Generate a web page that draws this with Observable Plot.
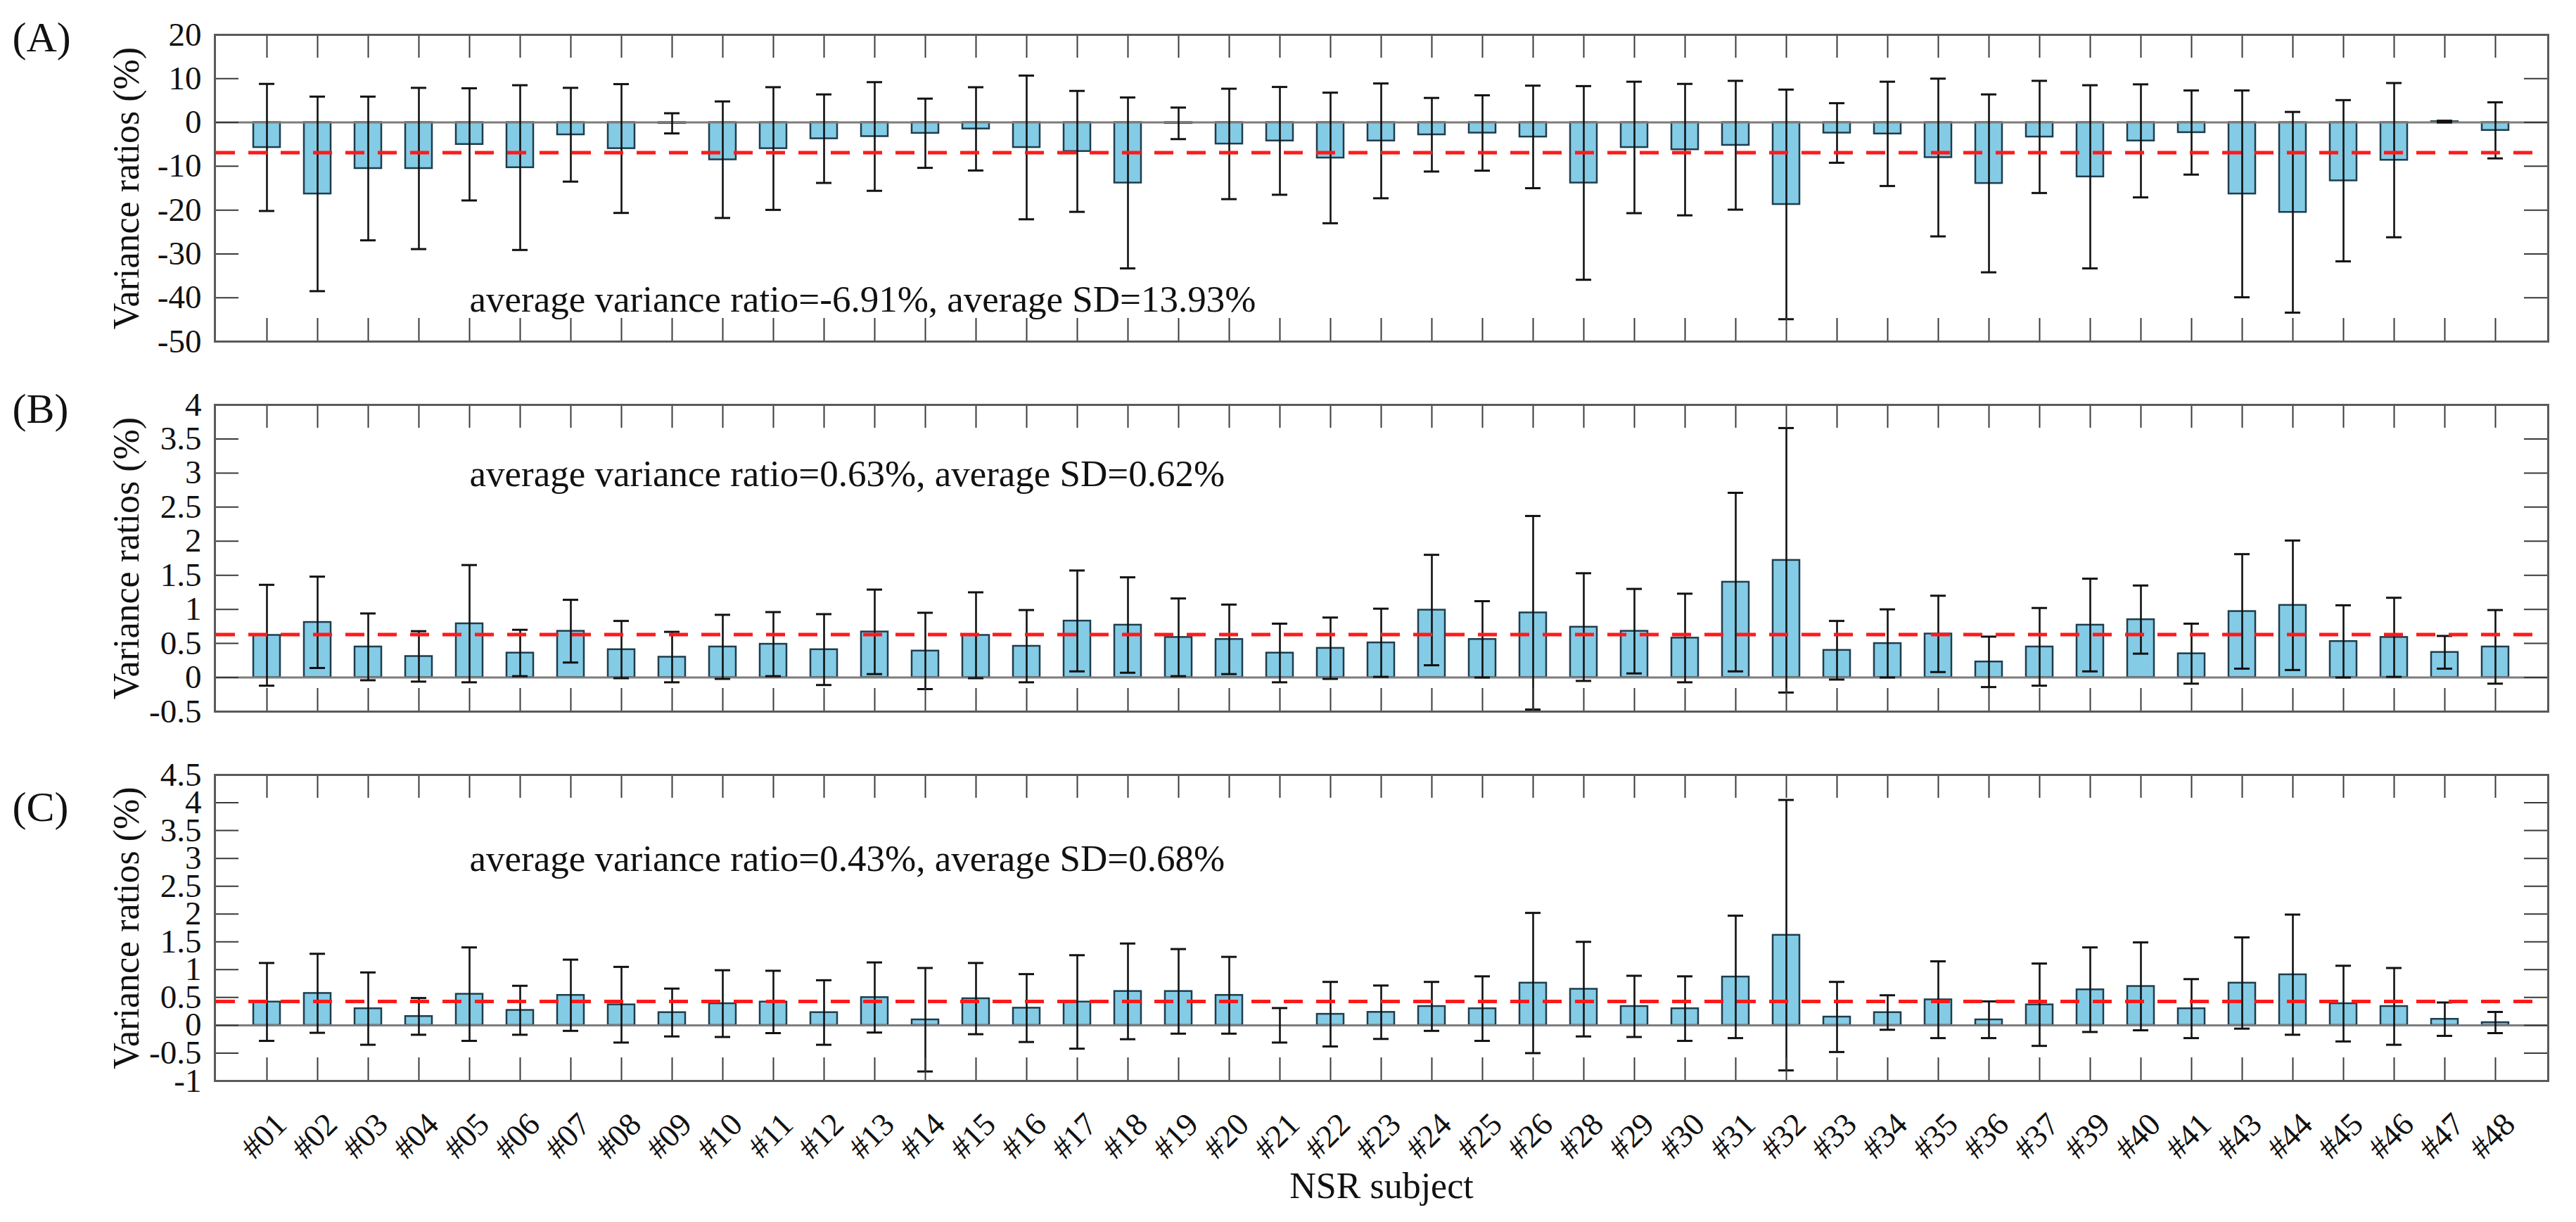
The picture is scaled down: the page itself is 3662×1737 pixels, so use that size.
<!DOCTYPE html>
<html><head><meta charset="utf-8">
<script src="https://cdn.jsdelivr.net/npm/d3@7"></script>
<script src="https://cdn.jsdelivr.net/npm/@observablehq/plot@0.6"></script>
<style>
html,body{margin:0;padding:0;background:#fff;}
#chart{position:relative;width:3662px;height:1737px;background:#fff;overflow:hidden;}
#chart > div{position:absolute;left:0;}
</style></head><body><div id="chart"></div>
<script>
const subjects = ["#01","#02","#03","#04","#05","#06","#07","#08","#09","#10","#11","#12","#13","#14","#15","#16","#17","#18","#19","#20","#21","#22","#23","#24","#25","#26","#28","#29","#30","#31","#32","#33","#34","#35","#36","#37","#39","#40","#41","#43","#44","#45","#46","#47","#48"];

const meanA = [-5.7,-16.3,-10.5,-10.5,-5.0,-10.3,-2.8,-5.95,-0.2,-8.5,-5.95,-3.7,-3.2,-2.46,-1.46,-5.7,-6.6,-13.8,-0.2,-4.9,-4.2,-8.1,-4.2,-2.8,-2.4,-3.3,-13.8,-5.7,-6.2,-5.2,-18.7,-2.4,-2.6,-8.0,-13.9,-3.3,-12.4,-4.2,-2.3,-16.3,-20.5,-13.3,-8.6,0.2,-1.8];
const sdA = [14.5,22.2,16.4,18.4,12.8,18.8,10.7,14.7,2.3,13.3,14.0,10.1,12.4,7.9,9.5,16.4,13.8,19.5,3.6,12.6,12.3,14.9,13.1,8.4,8.6,11.7,22.1,15.0,15.0,14.7,26.2,6.8,11.9,18.0,20.3,12.8,20.9,12.9,9.6,23.6,22.9,18.4,17.6,0.2,6.4];

const meanB = [0.62,0.81,0.45,0.31,0.79,0.36,0.68,0.41,0.30,0.45,0.49,0.41,0.67,0.39,0.62,0.46,0.83,0.77,0.59,0.56,0.36,0.43,0.51,0.99,0.56,0.95,0.74,0.68,0.58,1.40,1.72,0.40,0.50,0.64,0.23,0.45,0.77,0.85,0.35,0.97,1.06,0.53,0.59,0.37,0.45];
const sdB = [0.74,0.67,0.49,0.37,0.86,0.34,0.46,0.42,0.37,0.47,0.47,0.52,0.62,0.56,0.63,0.53,0.74,0.70,0.57,0.51,0.43,0.45,0.50,0.81,0.56,1.42,0.79,0.62,0.65,1.31,1.94,0.43,0.50,0.56,0.37,0.57,0.68,0.50,0.44,0.84,0.95,0.53,0.58,0.24,0.54];

const meanC = [0.42,0.575,0.30,0.16,0.56,0.27,0.54,0.37,0.23,0.39,0.42,0.23,0.50,0.10,0.48,0.31,0.42,0.61,0.61,0.54,0.00,0.20,0.235,0.34,0.30,0.76,0.65,0.34,0.30,0.87,1.62,0.15,0.23,0.46,0.10,0.37,0.64,0.70,0.30,0.76,0.91,0.39,0.34,0.11,0.05];
const sdC = [0.70,0.71,0.65,0.33,0.84,0.44,0.64,0.68,0.43,0.60,0.56,0.58,0.63,0.93,0.64,0.61,0.84,0.86,0.76,0.69,0.31,0.58,0.48,0.44,0.58,1.26,0.85,0.55,0.58,1.10,2.43,0.63,0.31,0.69,0.33,0.74,0.76,0.79,0.53,0.82,1.08,0.68,0.69,0.30,0.19];

const avgValues = [-6.91, 0.63, 0.43];
const notes = ["average variance ratio=-6.91%, average SD=13.93%", "average variance ratio=0.63%, average SD=0.62%", "average variance ratio=0.43%, average SD=0.68%"];
const letters = ["(A)", "(B)", "(C)"];
const yTicksA = [-50,-40,-30,-20,-10,0,10,20];
const yTicksB = [-0.5,0,0.5,1,1.5,2,2.5,3,3.5,4];
const yTicksC = [-1,-0.5,0,0.5,1,1.5,2,2.5,3,3.5,4,4.5];
const yLabel = "Variance ratios (%)";
const xLabel = "NSR subject";

const W = 3662, ML = 305, MR = 40;
const FONT = "'Liberation Serif','Times New Roman',serif";

function makePanel(cfg) {
  const rows = subjects.map((s, i) => ({s, m: cfg.mean[i], lo: cfg.mean[i] - cfg.sd[i], hi: cfg.mean[i] + cfg.sd[i]}));
  const frameW = W - ML - MR;
  const frameH = cfg.height - cfg.mTop - cfg.mBottom;
  const tickStyle = {stroke: "#3a3a3a", strokeWidth: 2};
  const marks = [
    Plot.barY(rows, {x: "s", y: "m", fill: "#84cbe6", stroke: "#1f3d4c", strokeWidth: 2.5}),
    Plot.ruleY([0], {stroke: "#7d7d7d", strokeWidth: 3}),
    Plot.ruleX(rows, {x: "s", y1: "lo", y2: "hi", stroke: "#111", strokeWidth: 2.6}),
    Plot.tickY(rows, {x: "s", y: "hi", stroke: "#111", strokeWidth: 3, inset: 8}),
    Plot.tickY(rows, {x: "s", y: "lo", stroke: "#111", strokeWidth: 3, inset: 8}),
    Plot.ruleY([cfg.avg], {stroke: "#ff1a1a", strokeWidth: 5, strokeDasharray: "27,19", insetRight: 20, insetLeft: 2}),
    Plot.tickY(cfg.yTicks, {y: d => d, insetRight: frameW - 34, ...tickStyle}),
    Plot.tickY(cfg.yTicks, {y: d => d, insetLeft: frameW - 34, ...tickStyle}),
    Plot.tickX(subjects, {x: d => d, insetBottom: frameH - 33, ...tickStyle}),
    Plot.tickX(subjects, {x: d => d, insetTop: frameH - 33, ...tickStyle}),
    Plot.frame({stroke: "#5a5a5a", strokeWidth: 3}),
    Plot.axisY(cfg.yTicks, {anchor: "left", tickSize: 0, tickPadding: 19, fontSize: 47, label: null, tickFormat: d => String(d)}),
    Plot.text([cfg.letter], {text: d => d, frameAnchor: "top-left", dx: 17 - ML, dy: cfg.letterDy, textAnchor: "start", lineAnchor: "bottom", fontSize: 60}),
    Plot.text([yLabel], {text: d => d, frameAnchor: "left", dx: -125, rotate: -90, textAnchor: "middle", lineAnchor: "middle", fontSize: 52}),
    Plot.text([cfg.note], {text: d => d, frameAnchor: "top-left", dx: 362, dy: cfg.noteDy, textAnchor: "start", lineAnchor: "bottom", fontSize: 53})
  ];
  if (cfg.showX) {
    marks.push(Plot.axisX({anchor: "bottom", tickSize: 0, tickRotate: -45, tickPadding: 54, dx: 20, fontSize: 46, label: null}));
    marks.push(Plot.text([xLabel], {text: d => d, frameAnchor: "bottom", dy: 166, textAnchor: "middle", lineAnchor: "bottom", fontSize: 52}));
  }
  const svg = Plot.plot({
    width: W,
    height: cfg.height,
    marginLeft: ML,
    marginRight: MR,
    marginTop: cfg.mTop,
    marginBottom: cfg.mBottom,
    style: {fontFamily: FONT, background: "transparent", color: "#111", overflow: "visible"},
    x: {type: "band", domain: subjects, paddingInner: 0.47, paddingOuter: 0.735, align: 0.5, axis: null},
    y: {domain: cfg.yDomain, axis: null},
    marks
  });
  const holder = document.createElement("div");
  holder.style.top = cfg.top + "px";
  holder.appendChild(svg);
  document.getElementById("chart").appendChild(holder);
}

makePanel({mean: meanA, sd: sdA, avg: avgValues[0], yDomain: [-50, 20], yTicks: yTicksA, top: 0, height: 500, mTop: 49, mBottom: 15, letter: letters[0], letterDy: 23, note: notes[0], noteDy: 393, showX: false});
makePanel({mean: meanB, sd: sdB, avg: avgValues[1], yDomain: [-0.5, 4], yTicks: yTicksB, top: 500, height: 540, mTop: 75, mBottom: 29, letter: letters[1], letterDy: 25, note: notes[1], noteDy: 115, showX: false});
makePanel({mean: meanC, sd: sdC, avg: avgValues[2], yDomain: [-1, 4.5], yTicks: yTicksC, top: 1040, height: 697, mTop: 61, mBottom: 201, letter: letters[2], letterDy: 65, note: notes[2], noteDy: 136, showX: true});
</script>
</body></html>
